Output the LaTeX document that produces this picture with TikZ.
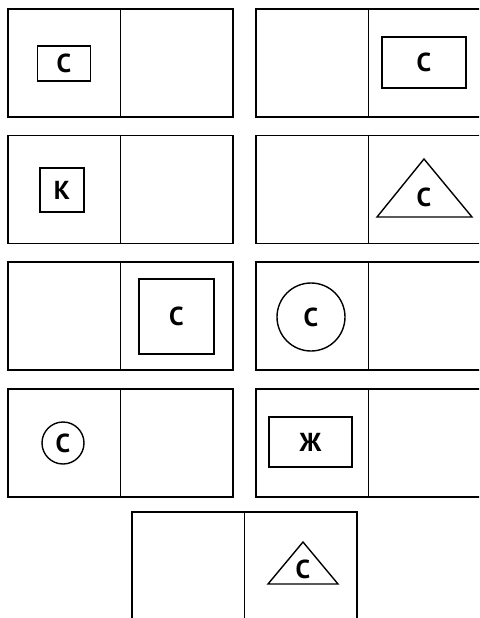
\documentclass[tikz,border=0pt]{standalone}
\usepackage{fontspec}
\setmainfont{PT Sans}
\begin{document}
\begin{tikzpicture}
  [x=1pt,y=-1pt,
   card/.style={draw=black,line width=1.8pt,minimum width=225pt,minimum height=108pt,inner sep=0pt},
   sym/.style={draw=black,line width=1.4pt,inner sep=0pt,font=\fontsize{26}{30}\selectfont\bfseries},
   lbl/.style={inner sep=0pt,font=\fontsize{26}{30}\selectfont\bfseries}]
  \useasboundingbox (0,0) rectangle (479,618);
  \clip (0,0) rectangle (479,618);

  % Cartas (dos mitades cada una)
  \node[card] (c1) at (120.5,63)   {};
  \node[card] (c2) at (368.5,63)   {};
  \node[card] (c3) at (120.5,189.5) {};
  \node[card] (c4) at (368.5,189.5) {};
  \node[card] (c5) at (120.5,316)  {};
  \node[card] (c6) at (368.5,316)  {};
  \node[card] (c7) at (120.5,443)  {};
  \node[card] (c8) at (368.5,443)  {};
  \node[card] (c9) at (244.5,566)  {};

  % Línea central de cada carta
  \foreach \c in {c1,c2,c3,c4,c5,c6,c7,c8,c9}
    \draw[line width=1.8pt] (\c.north) -- (\c.south);

  % Figuras con letras
  \node[sym,rectangle,minimum width=53pt,minimum height=35pt] (s1) at (64,63.5) {С};
  \node[sym,rectangle,minimum width=84pt,minimum height=51pt] (s2) at (424,62.5) {С};
  \node[sym,rectangle,minimum width=44pt,minimum height=44pt] (s3) at (62,190) {К};
  \node[sym,rectangle,minimum width=75pt,minimum height=75pt] (s5) at (176.5,316.5) {С};
  \node[sym,circle,minimum size=68pt] (s6) at (311,317) {С};
  \node[sym,circle,minimum size=42pt] (s7) at (63,443) {С};
  \node[sym,rectangle,minimum width=83pt,minimum height=50pt] (s8) at (310.5,442) {Ж};

  % Triángulos
  \draw[line width=1.4pt,line join=miter] (424,159) -- (472,217) -- (377,217) -- cycle;
  \node[lbl] (s4) at (424,197) {С};
  \draw[line width=1.4pt,line join=miter] (303,542) -- (338,584) -- (268,584) -- cycle;
  \node[lbl] (s9) at (303,569) {С};
\end{tikzpicture}
\end{document}
